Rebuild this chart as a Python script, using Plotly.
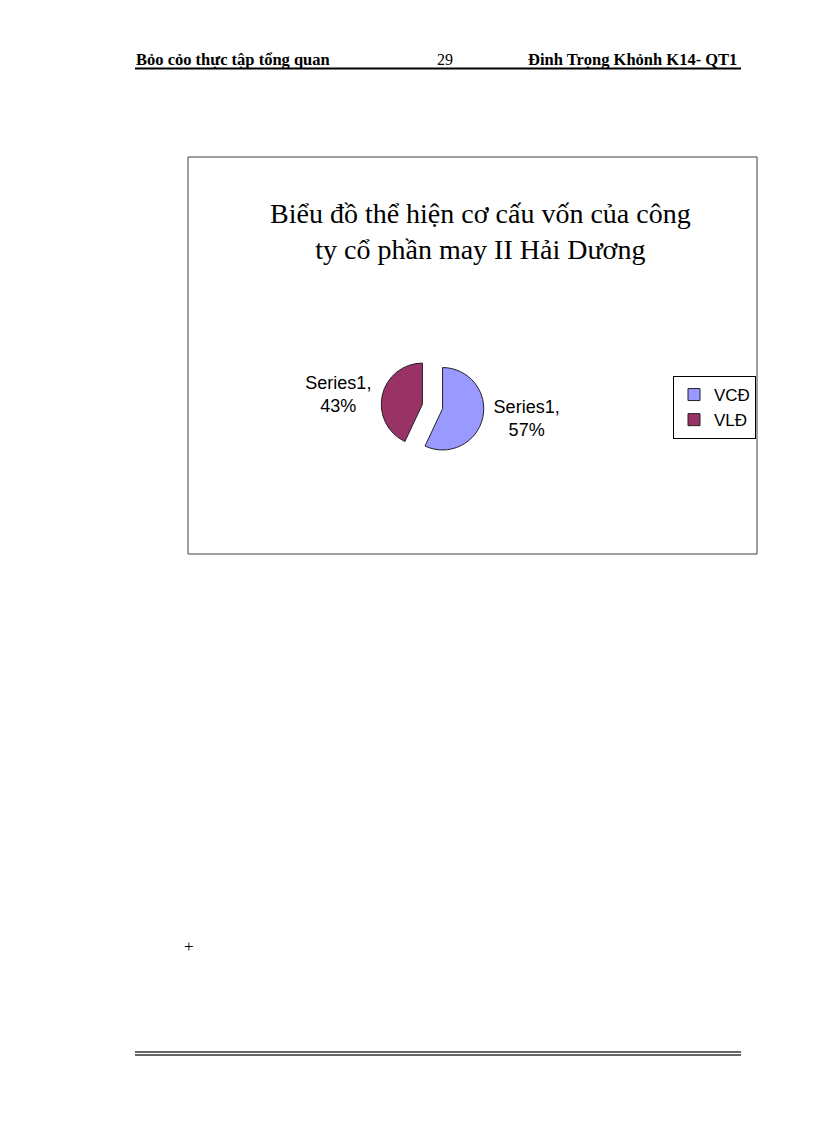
import plotly.graph_objects as go

# du lieu bieu do
labels = ['VCĐ', 'VLĐ']
values = [57, 43]
colors = ['#9999FF', '#993366']
series_name = 'Series1'

title_text = 'Biểu đồ thể hiện cơ cấu vốn của công<br>ty cổ phần may II Hải Dương'
header_left = 'Bỏo cỏo thực tập tổng quan'
header_page = '29'
header_right = 'Đinh Trọng Khỏnh K14- QT1'

# trang 816x1123, body co le 8px
OFF = 8
W, H = 816 - 2 * OFF, 1123 - 2 * OFF


def px(x):
    return (x - OFF) / W


def py(y):
    return 1 - (y - OFF) / H


fig = go.Figure()

# bieu do tron
fig.add_trace(go.Pie(
    labels=labels,
    values=values,
    sort=False,
    direction='clockwise',
    rotation=0,
    pull=[0.25, 0.25],
    marker=dict(colors=colors, line=dict(color='#222222', width=1)),
    texttemplate=series_name + ',<br>%{percent:.0%}',
    textposition='outside',
    textfont=dict(family='Liberation Sans, Arial', size=18, color='black'),
    domain=dict(x=[px(381), px(484)], y=[py(458), py(355)]),
    hoverinfo='label+percent',
))

shapes = [
    # khung bieu do
    dict(type='rect', xref='paper', yref='paper',
         x0=px(188), x1=px(757), y0=py(554), y1=py(157),
         line=dict(color='#404040', width=1)),
    # duong ke dau trang
    dict(type='line', xref='paper', yref='paper',
         x0=px(135), x1=px(741), y0=py(68.5), y1=py(68.5),
         line=dict(color='black', width=2)),
    # duong ke chan trang (kep)
    dict(type='line', xref='paper', yref='paper',
         x0=px(135), x1=px(741), y0=py(1052), y1=py(1052),
         line=dict(color='#333333', width=1.5)),
    dict(type='line', xref='paper', yref='paper',
         x0=px(135), x1=px(741), y0=py(1055), y1=py(1055),
         line=dict(color='#333333', width=1.5)),
]

serif = 'Liberation Serif, Times New Roman, serif'
annotations = [
    dict(text=title_text, x=px(480), y=py(231), xref='paper', yref='paper',
         showarrow=False, xanchor='center', yanchor='middle',
         font=dict(family=serif, size=28, color='black')),
    dict(text='<b>' + header_left + '</b>', x=px(134), y=py(59), xref='paper', yref='paper',
         showarrow=False, xanchor='left', yanchor='middle',
         font=dict(family=serif, size=16.5, color='black')),
    dict(text=header_page, x=px(445), y=py(59), xref='paper', yref='paper',
         showarrow=False, xanchor='center', yanchor='middle',
         font=dict(family=serif, size=16, color='black')),
    dict(text='<b>' + header_right + '</b>', x=px(739), y=py(59), xref='paper', yref='paper',
         showarrow=False, xanchor='right', yanchor='middle',
         font=dict(family=serif, size=16.5, color='black')),
    dict(text='+', x=px(189), y=py(946), xref='paper', yref='paper',
         showarrow=False, xanchor='center', yanchor='middle',
         font=dict(family=serif, size=17, color='black')),
]

fig.update_layout(
    width=W,
    height=H,
    margin=dict(l=0, r=0, t=0, b=0),
    paper_bgcolor='white',
    plot_bgcolor='white',
    shapes=shapes,
    annotations=annotations,
    showlegend=True,
    legend=dict(
        x=px(673), y=py(376), xanchor='left', yanchor='top',
        bordercolor='black', borderwidth=1, bgcolor='white',
        font=dict(family='Liberation Sans, Arial', size=17, color='black'),
        itemwidth=30, tracegroupgap=0,
    ),
)

fig.write_html('out.html')
